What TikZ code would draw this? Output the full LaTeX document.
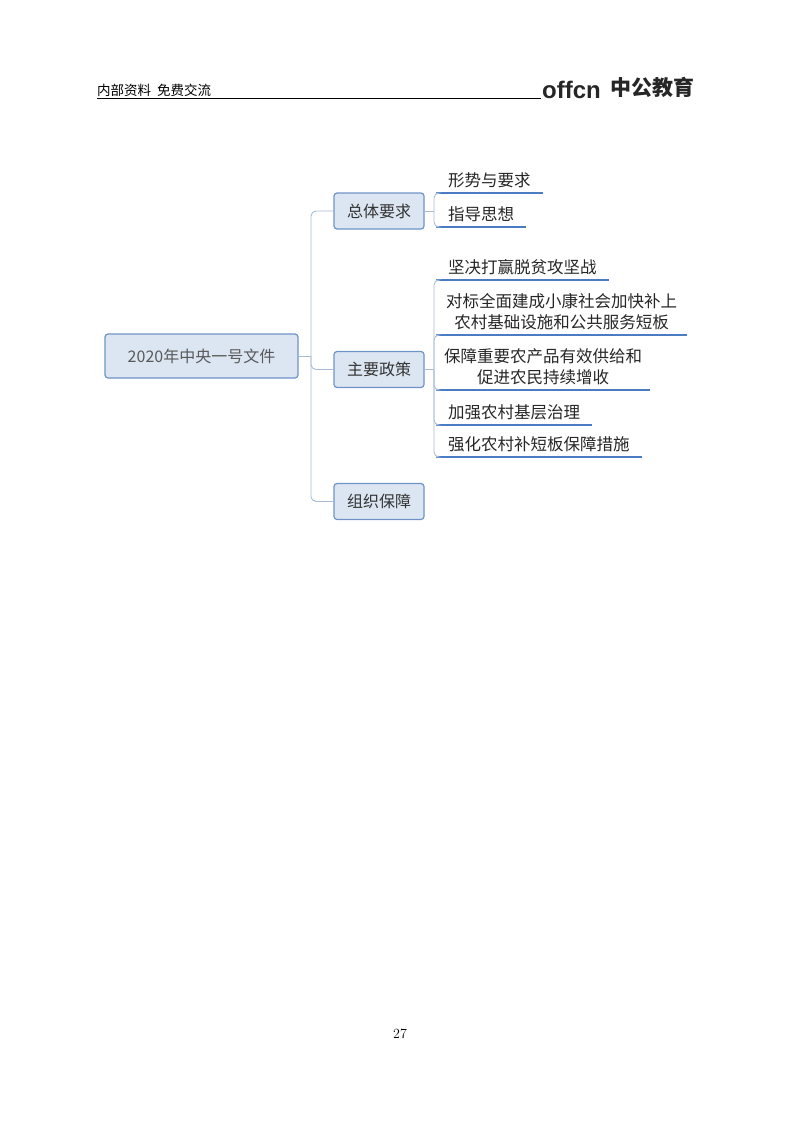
\documentclass[tikz,border=0pt]{standalone}
\usepackage{fontspec}
\newfontfamily\cjk{Noto Sans CJK SC}
\newfontfamily\sans{Liberation Sans}
\definecolor{boxfill}{HTML}{DCE6F2}
\definecolor{boxline}{HTML}{6F93C8}
\definecolor{conn}{HTML}{A9BCD6}
\definecolor{uline}{HTML}{4A7CC4}
\tikzset{
 rootbox/.style={draw=boxline,fill=boxfill,rounded corners=3pt,line width=1.2pt,minimum width=193pt,minimum height=44pt,font=\cjk\fontsize{16}{18}\selectfont,text=black!65},
 lvbox/.style={draw=boxline,fill=boxfill,rounded corners=3pt,line width=1.2pt,minimum width=90pt,minimum height=36pt,font=\cjk\fontsize{16}{18}\selectfont,text=black!80},
 leaf/.style={anchor=south west,inner xsep=12pt,inner ysep=5pt,align=center,font=\cjk\fontsize{16.5}{20.5}\selectfont,text=black!85},
 ul/.style={draw=uline,line width=1.8pt},
 cn/.style={draw=conn,line width=0.9pt,rounded corners=5pt}
}
\begin{document}
\begin{tikzpicture}[x=1pt,y=-1pt]
\useasboundingbox (0,0) rectangle (800,1124);
% header
\node[anchor=south west,inner sep=0,font=\cjk\fontsize{13.5}{15}\selectfont] (hdr) at (97,97) {内部资料\ \ 免费交流};
\draw[line width=0.8pt] (97,98.5) -- (541,98.5);
\node[anchor=south west,inner sep=0,font=\sans\bfseries\fontsize{24}{26}\selectfont,text=black!85] (logo) at (542,99) {offcn};
\node[anchor=south west,inner sep=0,font=\cjk\bfseries\fontsize{21}{23}\selectfont,text=black!85] (logocn) at (610,98) {中公教育};
\node[inner sep=0,font=\fontsize{14}{16}\selectfont] (pg) at (400,1034) {27};
% nodes
\node[rootbox] (root) at (201.5,356) {2020年中央一号文件};
\node[lvbox] (b1) at (379,211) {总体要求};
\node[lvbox] (b2) at (379,369.5) {主要政策};
\node[lvbox] (b3) at (379,501.5) {组织保障};
\node[leaf,minimum width=81pt] (l1) at (436,193) {形势与要求};
\node[leaf,minimum width=64pt] (l2) at (436,227) {指导思想};
\node[leaf,minimum width=91pt] (m1) at (436,280) {坚决打赢脱贫攻坚战};
\node[leaf,minimum width=251pt,inner xsep=0pt] (m2) at (436,335) {对标全面建成小康社会加快补上\\农村基础设施和公共服务短板};
\node[leaf,minimum width=214pt,inner xsep=0pt] (m3) at (436,390) {保障重要农产品有效供给和\\促进农民持续增收};
\node[leaf,minimum width=154pt] (m4) at (436,425) {加强农村基层治理};
\node[leaf,minimum width=197pt] (m5) at (436,457) {强化农村补短板保障措施};
\foreach \n in {l1,l2,m1,m2,m3,m4,m5}{\draw[ul] (\n.south west) -- (\n.south east);}
% connectors
\coordinate (k0) at (311,356);
\coordinate (k1) at (434,211);
\coordinate (k2) at (434,369.5);
\draw[cn] (root.east) -- (k0);
\foreach \b in {b1,b2,b3}{\draw[cn] (k0) |- (\b.west);}
\draw[cn] (b1.east) -- (k1);
\foreach \n in {l1,l2}{\draw[cn] (k1) |- (\n.south west);}
\draw[cn] (b2.east) -- (k2);
\foreach \n in {m1,m2,m3,m4,m5}{\draw[cn] (k2) |- (\n.south west);}
\end{tikzpicture}
\end{document}
